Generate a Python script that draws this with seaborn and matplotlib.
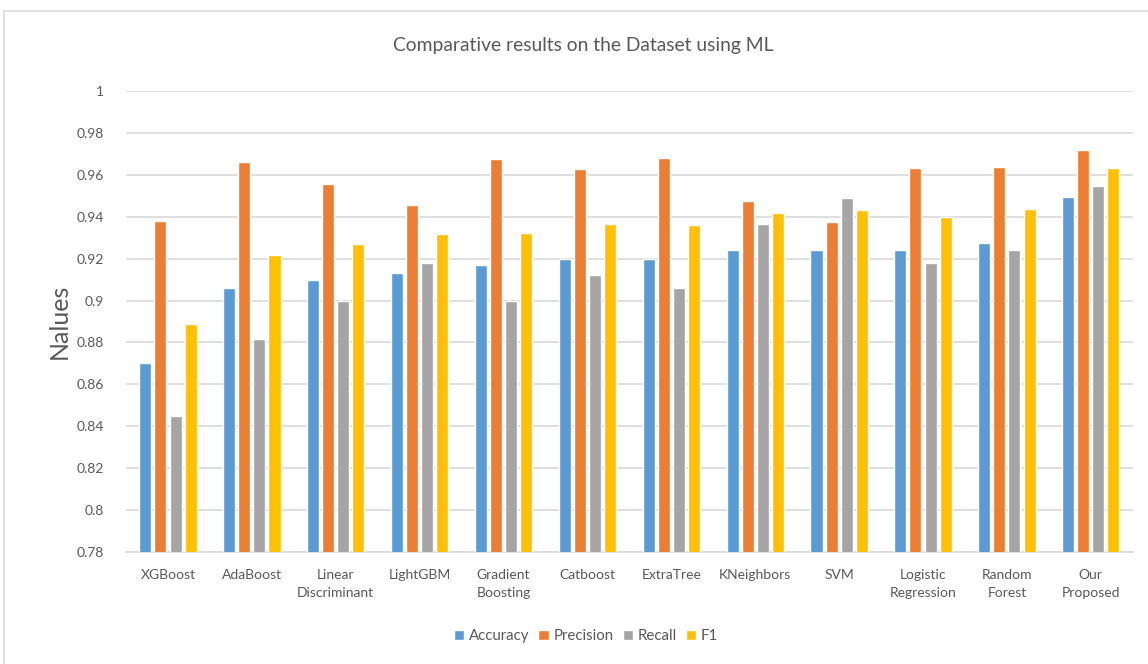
import pandas as pd
import matplotlib.pyplot as plt
import seaborn as sns
from matplotlib.lines import Line2D
from matplotlib.ticker import FuncFormatter, MultipleLocator

MODELS = ["XGBoost", "AdaBoost", "Linear\nDiscriminant", "LightGBM", "Gradient\nBoosting",
          "Catboost", "ExtraTree", "KNeighbors", "SVM", "Logistic\nRegression",
          "Random\nForest", "Our\nProposed"]
ACCURACY = [0.870, 0.906, 0.910, 0.913, 0.917, 0.920, 0.920, 0.924, 0.924, 0.924, 0.9275, 0.9495]
PRECISION = [0.938, 0.966, 0.9555, 0.9455, 0.9675, 0.9625, 0.968, 0.9475, 0.9375, 0.963, 0.9635, 0.9717]
RECALL = [0.845, 0.8815, 0.900, 0.918, 0.900, 0.912, 0.906, 0.9365, 0.9487, 0.918, 0.924, 0.9546]
F1 = [0.889, 0.9217, 0.9268, 0.9315, 0.9323, 0.9366, 0.9358, 0.9417, 0.9431, 0.940, 0.9435, 0.9632]
METRICS = ["Accuracy", "Precision", "Recall", "F1"]
COLORS = ["#5B9BD5", "#ED7D31", "#A5A5A5", "#FFC000"]

TEXT = "#595959"
GRID = "#D9D9D9"


def build_frame():
    rows = []
    for metric, vals in zip(METRICS, [ACCURACY, PRECISION, RECALL, F1]):
        for model, v in zip(MODELS, vals):
            rows.append({"Model": model, "Metric": metric, "Value": v})
    return pd.DataFrame(rows)


def main():
    df = build_frame()
    sns.set_style("white")
    plt.rcParams["font.family"] = ["Lato", "DejaVu Sans"]

    fig = plt.figure(figsize=(11.48, 6.64), dpi=100)
    ax = fig.add_axes([0.1098, 0.1682, 0.8769, 0.6952])

    sns.barplot(data=df, x="Model", y="Value", hue="Metric", order=MODELS,
                hue_order=METRICS, palette=COLORS, width=0.72, gap=0.2,
                saturation=1, ax=ax, zorder=3)

    ax.set_ylim(0.78, 1.0)
    ax.set_xlim(-0.5, len(MODELS) - 0.5)
    ax.yaxis.set_major_locator(MultipleLocator(0.02))
    ax.yaxis.set_major_formatter(FuncFormatter(lambda v, p: f"{round(v, 2):g}"))
    ax.grid(axis="y", color=GRID, linewidth=1.2, zorder=0)
    for side in ["top", "right", "left"]:
        ax.spines[side].set_visible(False)
    ax.spines["bottom"].set_color(GRID)
    ax.spines["bottom"].set_linewidth(1.2)
    ax.tick_params(axis="both", length=0, labelsize=10, colors=TEXT)
    ax.tick_params(axis="y", pad=16)
    ax.tick_params(axis="x", pad=12)
    for lbl in ax.get_xticklabels():
        lbl.set_linespacing(1.6)

    ax.set_xlabel("")
    ax.set_ylabel("Nalues", fontsize=18, color=TEXT, labelpad=4)
    fig.text(583 / 1148, 1 - 45 / 664, "Comparative results on the Dataset using ML",
             fontsize=13.9, color=TEXT, ha="center", va="center")

    handles, labels = ax.get_legend_handles_labels()
    fig.legend(handles, labels, loc="center", bbox_to_anchor=(586 / 1148, 1 - 636 / 664),
               ncol=4, frameon=False, fontsize=10.8, handlelength=0.7, handleheight=0.7,
               handletextpad=0.3, columnspacing=0.6, labelcolor=TEXT)
    ax.get_legend().remove()

    # chart frame (top and left edges visible)
    fig.add_artist(Line2D([4 / 1148, 4 / 1148], [0, 1 - 11 / 664], color=GRID, lw=1.2,
                          transform=fig.transFigure))
    fig.add_artist(Line2D([4 / 1148, 1], [1 - 11 / 664, 1 - 11 / 664], color=GRID, lw=1.2,
                          transform=fig.transFigure))

    fig.savefig("out.png", dpi=100)
    plt.close(fig)


if __name__ == "__main__":
    main()
